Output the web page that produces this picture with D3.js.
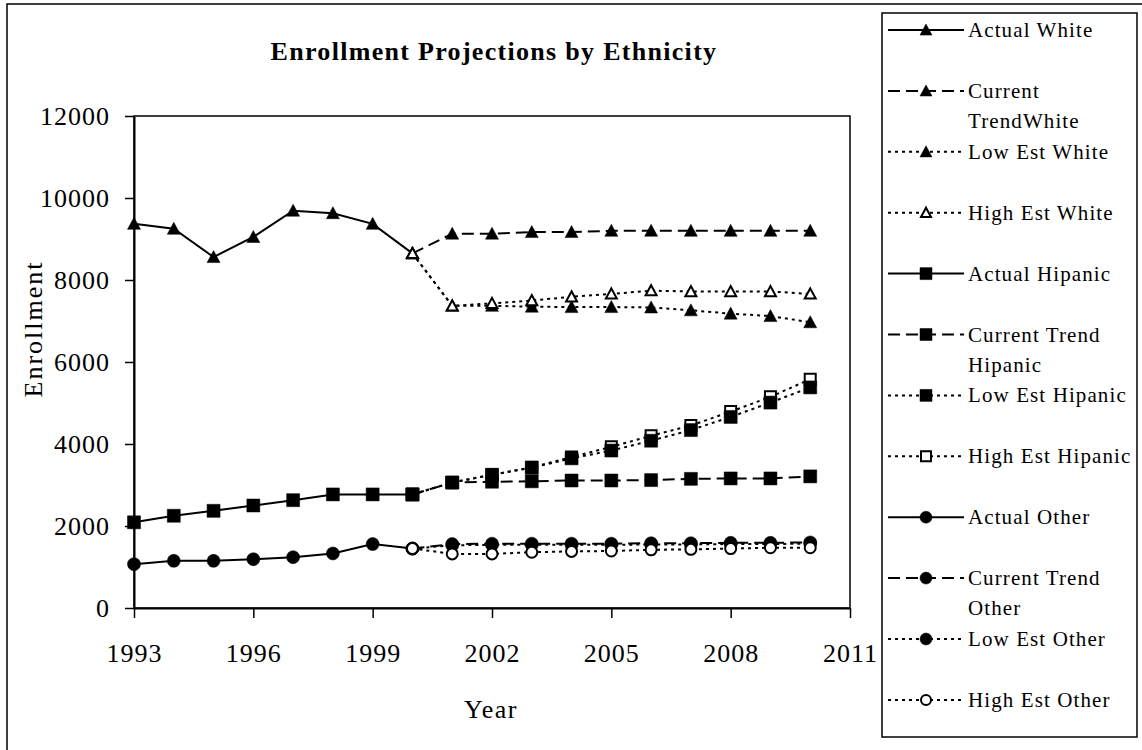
<!DOCTYPE html>
<html>
<head>
<meta charset="utf-8">
<script src="https://cdn.jsdelivr.net/npm/d3@7"></script>
<style>
body { margin: 0; background: #fff; }
svg text { font-family: "Liberation Serif", "Times New Roman", serif; fill: #000; }
</style>
</head>
<body>
<script>
// years
var actualYears = [1993, 1994, 1995, 1996, 1997, 1998, 1999, 2000];
var projYears = [2000, 2001, 2002, 2003, 2004, 2005, 2006, 2007, 2008, 2009, 2010];

// enrollment
var actualWhite = [9370, 9250, 8560, 9050, 9690, 9630, 9370, 8650];
var trendWhite  = [8650, 9130, 9130, 9170, 9170, 9200, 9200, 9200, 9200, 9200, 9200];
var lowWhite    = [8650, 7370, 7370, 7350, 7340, 7340, 7330, 7260, 7180, 7120, 6970];
var highWhite   = [8650, 7370, 7430, 7500, 7590, 7660, 7740, 7720, 7720, 7720, 7660];

var actualHisp = [2090, 2250, 2370, 2500, 2630, 2770, 2770, 2770];
var trendHisp  = [2770, 3060, 3080, 3090, 3110, 3110, 3120, 3150, 3160, 3160, 3210];
var lowHisp    = [2770, 3060, 3250, 3420, 3650, 3840, 4080, 4340, 4660, 5010, 5380];
var highHisp   = [2770, 3060, 3250, 3430, 3680, 3930, 4200, 4450, 4790, 5150, 5580];

var actualOther = [1070, 1150, 1150, 1190, 1240, 1330, 1560, 1450];
var trendOther  = [1450, 1560, 1570, 1570, 1570, 1570, 1580, 1580, 1590, 1590, 1600];
var lowOther    = [1450, 1530, 1540, 1540, 1540, 1540, 1550, 1550, 1560, 1560, 1570];
var highOther   = [1450, 1320, 1320, 1360, 1380, 1390, 1420, 1430, 1450, 1470, 1470];

var xTicks = [1993, 1996, 1999, 2002, 2005, 2008, 2011];
var yTicks = [0, 2000, 4000, 6000, 8000, 10000, 12000];

var title = "Enrollment Projections by Ethnicity";

// legend order
var series = [
  {label: ["Actual White"], years: actualYears, vals: actualWhite, style: "solid", shape: "tri", open: false},
  {label: ["Current", "TrendWhite"], years: projYears, vals: trendWhite, style: "dash", shape: "tri", open: false},
  {label: ["Low Est White"], years: projYears, vals: lowWhite, style: "dot", shape: "tri", open: false},
  {label: ["High Est White"], years: projYears, vals: highWhite, style: "dot", shape: "tri", open: true},
  {label: ["Actual Hipanic"], years: actualYears, vals: actualHisp, style: "solid", shape: "sq", open: false},
  {label: ["Current Trend", "Hipanic"], years: projYears, vals: trendHisp, style: "dash", shape: "sq", open: false},
  {label: ["Low Est Hipanic"], years: projYears, vals: lowHisp, style: "dot", shape: "sq", open: false},
  {label: ["High Est Hipanic"], years: projYears, vals: highHisp, style: "dot", shape: "sq", open: true},
  {label: ["Actual Other"], years: actualYears, vals: actualOther, style: "solid", shape: "circ", open: false},
  {label: ["Current Trend", "Other"], years: projYears, vals: trendOther, style: "dash", shape: "circ", open: false},
  {label: ["Low Est Other"], years: projYears, vals: lowOther, style: "dot", shape: "circ", open: false},
  {label: ["High Est Other"], years: projYears, vals: highOther, style: "dot", shape: "circ", open: true}
];
// low hispanic sits on top of the high one in the picture
var drawOrder = [0, 1, 2, 3, 4, 5, 7, 6, 8, 9, 10, 11];

var dashes = {solid: null, dash: "12,6", dot: "3,4"};

var W = 1142, H = 750;
var svg = d3.select("body").append("svg").attr("width", W).attr("height", H);

// outer frame
svg.append("rect").attr("x", 7).attr("y", 4).attr("width", 1150).attr("height", 760)
  .attr("fill", "none").attr("stroke", "#000").attr("stroke-width", 1.5);

var x = d3.scaleLinear().domain([1993, 2011]).range([134, 850]);
var y = d3.scaleLinear().domain([0, 12000]).range([608, 116]);

// plot box
svg.append("rect").attr("x", 134).attr("y", 116).attr("width", 716).attr("height", 492)
  .attr("fill", "none").attr("stroke", "#000").attr("stroke-width", 1.5);

var yAxis = svg.append("g").attr("transform", "translate(134,0)")
  .call(d3.axisLeft(y).tickValues(yTicks).tickFormat(d3.format("d")).tickSize(9).tickPadding(15).tickSizeOuter(0));
var xAxis = svg.append("g").attr("transform", "translate(0,608)")
  .call(d3.axisBottom(x).tickValues(xTicks).tickFormat(d3.format("d")).tickSize(10).tickPadding(26).tickSizeOuter(0));

[yAxis, xAxis].forEach(function(g) {
  g.select(".domain").attr("stroke", "#000").attr("stroke-width", 2);
  g.selectAll(".tick line").attr("stroke", "#000").attr("stroke-width", 1.5);
  g.selectAll("text").attr("font-size", 26).attr("letter-spacing", 1)
    .attr("font-family", "Liberation Serif, serif").attr("fill", "#000");
});

svg.append("text").attr("x", 494).attr("y", 60).attr("text-anchor", "middle")
  .attr("font-size", 26).attr("font-weight", "bold").attr("letter-spacing", 1.3).text(title);

svg.append("text").attr("transform", "translate(42,329) rotate(-90)").attr("text-anchor", "middle")
  .attr("font-size", 26).attr("letter-spacing", 2).text("Enrollment");

svg.append("text").attr("x", 491).attr("y", 718).attr("text-anchor", "middle")
  .attr("font-size", 26).attr("letter-spacing", 1.5).text("Year");

function markerPath(shape, s) {
  var h = s / 2;
  if (shape == "tri") return "M0," + (-h) + "L" + h + "," + (h * 0.85) + "L" + (-h) + "," + (h * 0.85) + "Z";
  if (shape == "sq") return "M" + (-h) + "," + (-h) + "h" + s + "v" + s + "h" + (-s) + "Z";
  return d3.symbol(d3.symbolCircle, Math.PI * h * h)();
}

function drawMarker(g, shape, open, cx, cy, s) {
  g.append("path").attr("d", markerPath(shape, open ? s - 2 : s))
    .attr("transform", "translate(" + cx + "," + cy + ")")
    .attr("fill", open ? "#fff" : "#000")
    .attr("stroke", "#000").attr("stroke-width", open ? 2 : 0.5);
}

var line = d3.line().x(function(d) { return x(d[0]); }).y(function(d) { return y(d[1]); });

var plot = svg.append("g");
drawOrder.forEach(function(i) {
  var s = series[i];
  var pts = s.years.map(function(yr, k) { return [yr, s.vals[k]]; });
  plot.append("path").datum(pts).attr("d", line)
    .attr("fill", "none").attr("stroke", "#000").attr("stroke-width", 2)
    .attr("stroke-dasharray", dashes[s.style]);
});
drawOrder.forEach(function(i) {
  var s = series[i];
  s.years.forEach(function(yr, k) {
    drawMarker(plot, s.shape, s.open, x(yr), y(s.vals[k]), 13);
  });
});

// legend
var lg = svg.append("g");
lg.append("rect").attr("x", 882).attr("y", 13).attr("width", 255).attr("height", 724)
  .attr("fill", "#fff").attr("stroke", "#000").attr("stroke-width", 1.5);

series.forEach(function(s, i) {
  var cy = 30 + i * 60.9;
  lg.append("line").attr("x1", 888).attr("x2", 964).attr("y1", cy).attr("y2", cy)
    .attr("stroke", "#000").attr("stroke-width", 2).attr("stroke-dasharray", dashes[s.style]);
  drawMarker(lg, s.shape, s.open, 926, cy, 12);
  s.label.forEach(function(t, j) {
    lg.append("text").attr("x", 968).attr("y", cy + 7 + j * 30)
      .attr("font-size", 21).attr("letter-spacing", 1.1).text(t);
  });
});
</script>
</body>
</html>
